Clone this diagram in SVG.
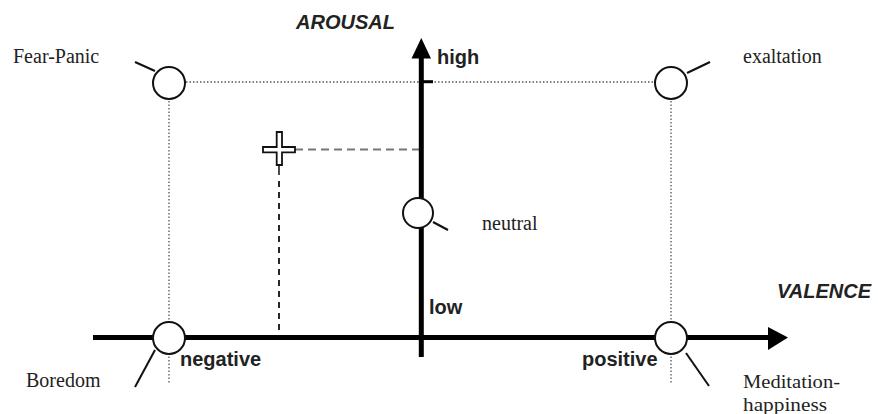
<svg xmlns="http://www.w3.org/2000/svg" width="878" height="414" viewBox="0 0 878 414">
<style>
.serif{font-family:"Liberation Serif","Times New Roman",serif;font-size:20px;fill:#222}
.serif2{font-family:"Liberation Serif","Times New Roman",serif;font-size:18px;fill:#222}
.sans{font-family:"Liberation Sans",Arial,sans-serif;font-size:20px;font-weight:bold;fill:#222}
.axlab{font-family:"Liberation Sans",Arial,sans-serif;font-size:20px;font-weight:bold;font-style:italic;fill:#222}
.dot{stroke:#555;stroke-width:1.3;stroke-dasharray:1.5 2;fill:none}
.node{fill:#fff;stroke:#111;stroke-width:2}
.tail{stroke:#111;stroke-width:2;fill:none}
.axis{stroke:#000;stroke-width:5;fill:none}
</style>
<rect width="878" height="414" fill="#fff"/>
<g id="connectors">
  <line class="dot" x1="186" y1="82" x2="654" y2="82"/>
  <line class="dot" x1="169" y1="101" x2="169" y2="384"/>
  <line class="dot" x1="671" y1="101" x2="671" y2="384"/>
  <line x1="295" y1="149.5" x2="419" y2="149.5" stroke="#777" stroke-width="2" stroke-dasharray="8 5"/>
  <line x1="279" y1="165" x2="279" y2="175" stroke="#111" stroke-width="1.5"/>
  <line x1="279" y1="181" x2="279" y2="336" stroke="#111" stroke-width="1.8" stroke-dasharray="6 5"/>
  <line class="axis" x1="93" y1="337.5" x2="770" y2="337.5"/>
  <polygon points="768,327 788,337.5 768,350" fill="#000"/>
  <line class="axis" x1="421.3" y1="357" x2="421.3" y2="56"/>
  <polygon points="411.5,58.5 421.3,38 431,58.5" fill="#000"/>
  <line x1="421" y1="81.7" x2="433" y2="81.7" stroke="#000" stroke-width="3"/>
</g>
<g id="fear-panic">
  <line class="tail" x1="155" y1="71" x2="135" y2="62"/>
  <circle class="node" cx="169" cy="83" r="16"/>
  <text class="serif" x="13" y="63">Fear-Panic</text>
</g>
<g id="exaltation">
  <line class="tail" x1="687" y1="73" x2="710" y2="62"/>
  <circle class="node" cx="671" cy="83" r="16"/>
  <text class="serif" x="743" y="63">exaltation</text>
</g>
<g id="boredom">
  <line class="tail" x1="155" y1="350" x2="135" y2="387"/>
  <circle class="node" cx="169" cy="338" r="16"/>
  <text class="serif" x="26" y="387">Boredom</text>
</g>
<g id="meditation">
  <line class="tail" x1="686" y1="353" x2="709" y2="386"/>
  <circle class="node" cx="671" cy="338" r="16"/>
  <text class="serif2" x="743" y="388" textLength="97" lengthAdjust="spacingAndGlyphs">Meditation-</text>
  <text class="serif2" x="743" y="411" textLength="84" lengthAdjust="spacingAndGlyphs">happiness</text>
</g>
<g id="neutral">
  <line class="tail" x1="433" y1="222" x2="448" y2="230"/>
  <circle class="node" cx="418" cy="213" r="15"/>
  <text class="serif" x="482" y="230">neutral</text>
</g>
<g id="current-point">
  <path d="M276.7,132 H282 V147 H295 V152.3 H282 V165 H276.7 V152.3 H263 V147 H276.7 Z" fill="#fff" stroke="#111" stroke-width="1.8"/>
</g>
<g id="labels">
  <text class="axlab" x="296" y="29">AROUSAL</text>
  <text class="axlab" x="777" y="298">VALENCE</text>
  <text class="sans" x="437" y="64">high</text>
  <text class="sans" x="429" y="314">low</text>
  <text class="sans" x="180" y="366">negative</text>
  <text class="sans" x="582" y="366">positive</text>
</g>
</svg>
